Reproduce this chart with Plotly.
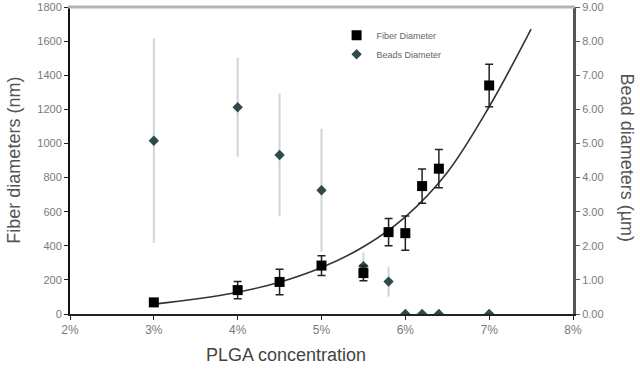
import plotly.graph_objects as go

# ---- data ----
plga = [3.0, 4.0, 4.5, 5.0, 5.5, 5.8, 6.0, 6.2, 6.4, 7.0]
fiber_nm = [68, 140, 188, 284, 240, 480, 474, 750, 852, 1340]
fiber_err = [18, 50, 75, 58, 45, 80, 100, 100, 112, 125]
bead_um = [5.08, 6.06, 4.66, 3.63, 1.40, 0.95, 0.0, 0.0, 0.0, 0.0]
bead_err = [3.0, 1.45, 1.8, 1.8, 0.4, 0.44, 0, 0, 0, 0]

# exponential trend line
trend_x = [3.0, 3.5, 4.0, 4.5, 5.0, 5.5, 6.0, 6.5, 7.0, 7.5]
trend_y = [58, 88, 128, 186, 272, 394, 570, 830, 1215, 1670]

x_ticks = [2, 3, 4, 5, 6, 7, 8]
x_ticktext = ["2%", "3%", "4%", "5%", "6%", "7%", "8%"]

fig = go.Figure()

fig.add_trace(go.Scatter(
    x=plga, y=bead_um, mode="markers", name="Beads Diameter",
    marker=dict(symbol="diamond", size=8, color="#2f4a4a"),
    error_y=dict(type="data", array=bead_err, color="#cdd5d5", thickness=2, width=0),
    yaxis="y", legendrank=2,
))
fig.add_trace(go.Scatter(
    x=trend_x, y=trend_y, mode="lines", line=dict(color="#333333", width=1.6, shape="spline"),
    showlegend=False, yaxis="y2", hoverinfo="skip",
))
fig.add_trace(go.Scatter(
    x=plga, y=fiber_nm, mode="markers", name="Fiber Diameter",
    marker=dict(symbol="square", size=10, color="#000000"),
    error_y=dict(type="data", array=fiber_err, color="#222222", thickness=1.5, width=4),
    yaxis="y2", legendrank=1,
))

FONT = "Liberation Sans, Arial, sans-serif"
tickfont = dict(family=FONT, size=11, color="#7a7a7a")

fig.update_layout(
    width=640, height=372,
    margin=dict(l=70, r=67, t=7, b=58),
    paper_bgcolor="white", plot_bgcolor="white",
    showlegend=True,
    legend=dict(x=0.53, y=0.955, xanchor="left", yanchor="top",
                font=dict(family=FONT, size=9, color="#666666"),
                bgcolor="rgba(0,0,0,0)", tracegroupgap=0, itemwidth=30),
    xaxis=dict(range=[2, 8], tickvals=x_ticks, ticktext=x_ticktext, showgrid=False,
               zeroline=False, showline=True, linecolor="#222222", linewidth=2, automargin=False,
               ticks="outside", ticklen=4, tickcolor="#222222", tickfont=dict(tickfont, size=12)),
    yaxis=dict(range=[0, 9], side="right", dtick=1, tickformat=".2f", showgrid=False,
               zeroline=False, showline=True, linecolor="#555555", linewidth=3, automargin=False,
               ticks="outside", ticklen=4, tickcolor="#555555", tickfont=tickfont),
    yaxis2=dict(range=[0, 1800], side="left", overlaying="y", dtick=200, showgrid=False,
                zeroline=False, showline=True, linecolor="#111111", linewidth=2, automargin=False,
                ticks="outside", ticklen=4, tickcolor="#222222", tickfont=tickfont),
    shapes=[dict(type="line", xref="paper", yref="paper", x0=-0.004, x1=1.004, y0=1, y1=1,
                 line=dict(color="#b4b4b4", width=3))],
    annotations=[
        dict(text="Fiber diameters (nm)", xref="paper", yref="paper", x=-0.113, y=0.5,
             xanchor="center", yanchor="middle", textangle=-90, showarrow=False,
             font=dict(family=FONT, size=18, color="#555555")),
        dict(text="Bead diameters (µm)", xref="paper", yref="paper", x=1.107, y=0.51,
             xanchor="center", yanchor="middle", textangle=90, showarrow=False,
             font=dict(family=FONT, size=18, color="#555555")),
        dict(text="PLGA concentration", xref="paper", yref="paper", x=0.429, y=-0.134,
             xanchor="center", yanchor="middle", showarrow=False,
             font=dict(family=FONT, size=18, color="#444444")),
    ],
)

fig.write_html("out.html", config={"displayModeBar": False},
               post_script="document.body.style.margin='0';")
